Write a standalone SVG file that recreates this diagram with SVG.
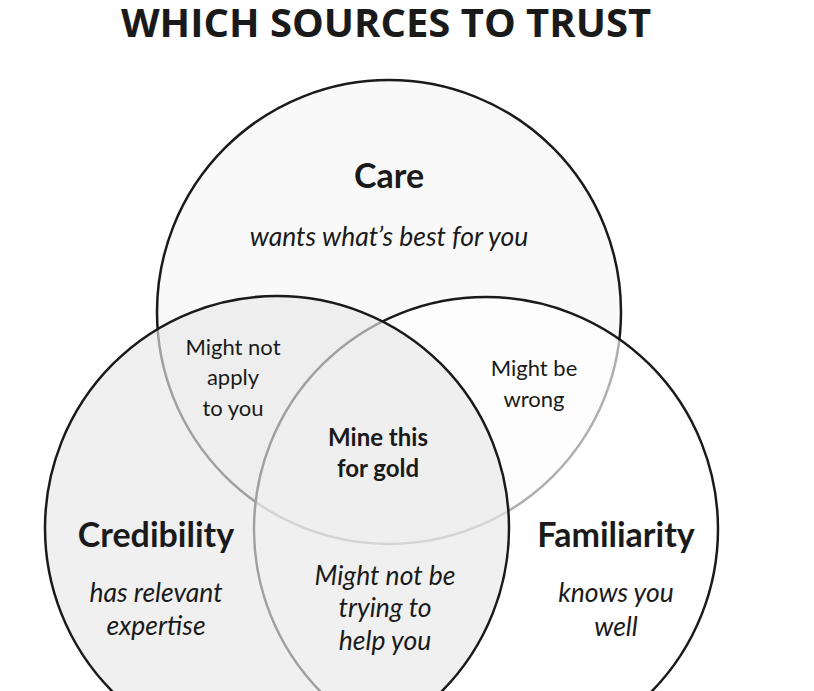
<svg xmlns="http://www.w3.org/2000/svg" width="814" height="691" viewBox="0 0 814 691">
<style>
.title{font-family:"Open Sans","Liberation Sans",sans-serif;font-weight:700;font-size:40px;fill:#1a1a1a;text-anchor:middle}
.head{font-family:Lato,"Open Sans",sans-serif;font-weight:700;font-size:34px;fill:#1a1a1a;text-anchor:middle}
.sub{font-family:Lato,"Open Sans",sans-serif;font-style:italic;font-size:26.5px;fill:#1a1a1a;text-anchor:middle}
.lab{font-family:Lato,"Open Sans",sans-serif;font-size:22px;fill:#1a1a1a;text-anchor:middle}
.gold{font-family:Lato,"Open Sans",sans-serif;font-weight:700;font-size:24px;fill:#1a1a1a;text-anchor:middle}
.circ{stroke:#1a1a1a;stroke-width:2.5}
</style>
<rect width="814" height="691" fill="#ffffff"/>
<text class="title" x="386" y="37">WHICH SOURCES TO TRUST</text>
<g id="care"><circle class="circ" cx="389" cy="312" r="232" fill="#f9f9f9"/></g>
<g id="familiarity"><circle class="circ" cx="486" cy="529" r="232" fill="#ffffff" fill-opacity="0.65"/></g>
<g id="credibility"><circle class="circ" cx="277" cy="528" r="232" fill="#e8e8e8" fill-opacity="0.65"/></g>
<g id="labels">
<text class="head" x="389" y="188">Care</text>
<text class="sub" x="389" y="246">wants what’s best for you</text>
<text class="lab" x="233" y="355">Might not</text>
<text class="lab" x="233" y="385">apply</text>
<text class="lab" x="233" y="416">to you</text>
<text class="lab" x="534" y="376">Might be</text>
<text class="lab" x="534" y="407">wrong</text>
<text class="gold" x="378" y="446">Mine this</text>
<text class="gold" x="378" y="477">for gold</text>
<text class="head" x="156" y="547">Credibility</text>
<text class="sub" x="156" y="602">has relevant</text>
<text class="sub" x="156" y="635">expertise</text>
<text class="head" x="616" y="547">Familiarity</text>
<text class="sub" x="616" y="602">knows you</text>
<text class="sub" x="616" y="636">well</text>
<text class="sub" x="385" y="585">Might not be</text>
<text class="sub" x="385" y="617">trying to</text>
<text class="sub" x="385" y="650">help you</text>
</g>
</svg>
